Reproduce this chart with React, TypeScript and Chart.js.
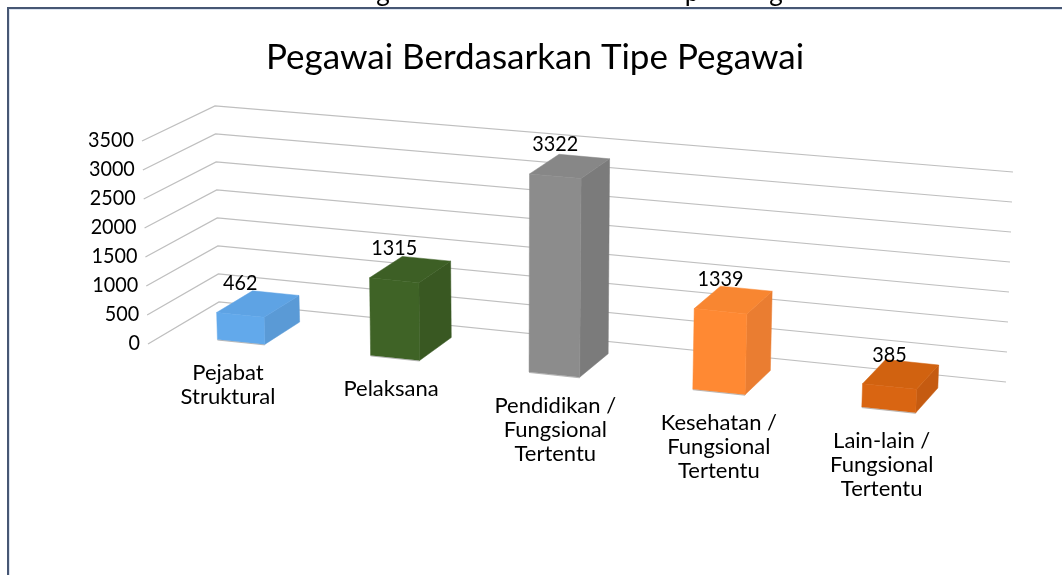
import React, { useEffect, useRef } from "react";
import { Chart, registerables } from "chart.js";

Chart.register(...registerables);

const categories: string[][] = [
  ["Pejabat", "Struktural"],
  ["Pelaksana"],
  ["Pendidikan /", "Fungsional", "Tertentu"],
  ["Kesehatan /", "Fungsional", "Tertentu"],
  ["Lain-lain /", "Fungsional", "Tertentu"],
];
const values = [462, 1315, 3322, 1339, 385];
const frontColors = ["#62A9EB", "#3F6326", "#8C8C8C", "#FF8933", "#D96512"];
const topColors = ["#5EA3E4", "#3D5F25", "#878787", "#F88631", "#D16210"];
const sideColors = ["#5A9AD6", "#395822", "#7B7B7B", "#EA7D31", "#C55B11"];
const labelOffsets = [-13, -4, 1, 0, -7];
const yMax = 3500;
const yStep = 500;
const titleText = "Pegawai Berdasarkan Tipe Pegawai";
const clippedCaption = [
  { text: "g", x: 383 },
  { text: "p", x: 692 },
  { text: "g", x: 776 },
];
const FONT = "Lato, Carlito, sans-serif";

// Oblique projection of the chart's own scale space: t is the x scale position (0..1),
// v the y scale position (0..1), d the depth through the bar (0 front, 1 back).
function project(t: number, v: number, d: number): [number, number] {
  const x = 166 + 743.6 * t + 66 * t * t + (-7 + 16 * t) * v + d * (37 - 16 * t);
  const y = 334.2 + 76.7 * t + 8.3 * t * t - v * (204 + 10 * t) + d * (-(22 + 3 * t) + 4 * v);
  return [x, y];
}

function poly(ctx: CanvasRenderingContext2D, pts: [number, number][], fill: string) {
  ctx.beginPath();
  pts.forEach((p, i) => (i ? ctx.lineTo(p[0], p[1]) : ctx.moveTo(p[0], p[1])));
  ctx.closePath();
  ctx.fillStyle = fill;
  ctx.fill();
  ctx.strokeStyle = fill;
  ctx.lineWidth = 0.5;
  ctx.stroke();
}

// digits of the reference's font are narrower than Lato's
function number(ctx: CanvasRenderingContext2D, text: string, x: number, y: number) {
  ctx.save();
  ctx.translate(x, y);
  ctx.scale(0.9, 1);
  ctx.fillText(text, 0, 0);
  ctx.restore();
}

const perspectivePlugin = {
  id: "perspective",
  beforeDraw(chart: any) {
    const { ctx, width, height } = chart;
    ctx.save();
    ctx.fillStyle = "#FFFFFF";
    ctx.fillRect(0, 0, width, height);
    // text of the caption above the frame, cut off by the top of the picture
    ctx.fillStyle = "#000000";
    ctx.font = `26px ${FONT}`;
    ctx.textAlign = "center";
    ctx.textBaseline = "alphabetic";
    clippedCaption.forEach((c) => ctx.fillText(c.text, c.x, 1));
    // frame
    ctx.fillStyle = "#DCE4F0";
    ctx.fillRect(9, 9, width - 9, 1);
    ctx.fillRect(9, 9, 1, height - 9);
    ctx.fillStyle = "#475774";
    ctx.fillRect(7, 7, width - 7, 2);
    ctx.fillRect(7, 7, 2, height - 7);
    ctx.restore();
  },
  beforeDatasetsDraw(chart: any) {
    const { ctx, chartArea, scales } = chart;
    const y = scales.y;
    const meta = chart.getDatasetMeta(0);
    const toT = (px: number) => (px - chartArea.left) / chartArea.width;

    ctx.save();
    // walls and their gridlines, one for each tick of the y scale
    ctx.strokeStyle = "#BFBFBF";
    ctx.lineWidth = 1.25;
    ctx.fillStyle = "#000000";
    ctx.font = `22px ${FONT}`;
    ctx.textAlign = "right";
    ctx.textBaseline = "middle";
    y.ticks.forEach((tick: any) => {
      const py = y.getPixelForValue(tick.value);
      const v = tick.value / yMax;
      const fx = 148 - 6 * v;
      ctx.beginPath();
      ctx.moveTo(fx, py + 1);
      ctx.lineTo(219 - 4 * v, 302 - 196 * v);
      ctx.lineTo(1006 + 7 * v, 382 - 210 * v);
      ctx.stroke();
      number(ctx, String(tick.value), fx - 8, py);
    });

    // bars, read from the chart's own bar elements
    meta.data.forEach((bar: any, i: number) => {
      const t0 = toT(bar.x - bar.width / 2);
      const t1 = toT(bar.x + bar.width / 2);
      const tc = toT(bar.x);
      const v = (y.bottom - bar.y) / (y.bottom - y.top);
      poly(ctx, [project(t1, 0, 0), project(t1, v, 0), project(t1, v, 1), project(t1, 0, 1)], sideColors[i]);
      poly(ctx, [project(t0, v, 0), project(t1, v, 0), project(t1, v, 1), project(t0, v, 1)], topColors[i]);
      poly(ctx, [project(t0, 0, 0), project(t1, 0, 0), project(t1, v, 0), project(t0, v, 0)], frontColors[i]);
      // faint light edge along the foot of the bar
      const a = project(t0, 0, 0);
      const b = project(t1, 0, 0);
      ctx.beginPath();
      ctx.moveTo(a[0], a[1] + 0.5);
      ctx.lineTo(b[0], b[1] + 0.5);
      ctx.strokeStyle = "rgba(170,170,170,0.8)";
      ctx.lineWidth = 1;
      ctx.stroke();

      // value label
      const top = project(tc, v, 0);
      ctx.fillStyle = "#000000";
      ctx.font = `22px ${FONT}`;
      ctx.textAlign = "center";
      ctx.textBaseline = "middle";
      number(ctx, String(values[i]), top[0], top[1] - 32);

      // category label
      const foot = project(tc, 0, 0);
      const lines = categories[i];
      lines.forEach((line, k) => {
        ctx.fillText(line, foot[0] + labelOffsets[i], foot[1] + 31 + k * 24);
      });
    });
    ctx.restore();
    return false;
  },
};

export default function App() {
  const ref = useRef<HTMLCanvasElement | null>(null);
  useEffect(() => {
    if (!ref.current) return;
    const chart = new Chart(ref.current, {
      type: "bar",
      data: {
        labels: categories,
        datasets: [
          {
            label: titleText,
            data: values,
            backgroundColor: frontColors,
            barPercentage: 0.3125,
            categoryPercentage: 1,
          },
        ],
      },
      options: {
        responsive: false,
        animation: false,
        layout: { padding: { left: 100, right: 92, top: 0, bottom: 232 } },
        scales: {
          x: { display: false },
          y: { display: false, min: 0, max: yMax, ticks: { stepSize: yStep } },
        },
        plugins: {
          legend: { display: false },
          tooltip: { enabled: false },
          title: {
            display: true,
            text: titleText,
            color: "#000000",
            font: { family: FONT, size: 35, weight: "normal", lineHeight: 1.2 },
            padding: { top: 37, bottom: 61 },
          },
        },
      },
      plugins: [perspectivePlugin],
    } as any);
    return () => chart.destroy();
  }, []);
  return (
    <canvas
      ref={ref}
      width={1062}
      height={575}
      style={{ position: "absolute", left: 0, top: 0, display: "block", width: 1062, height: 575 }}
    />
  );
}
